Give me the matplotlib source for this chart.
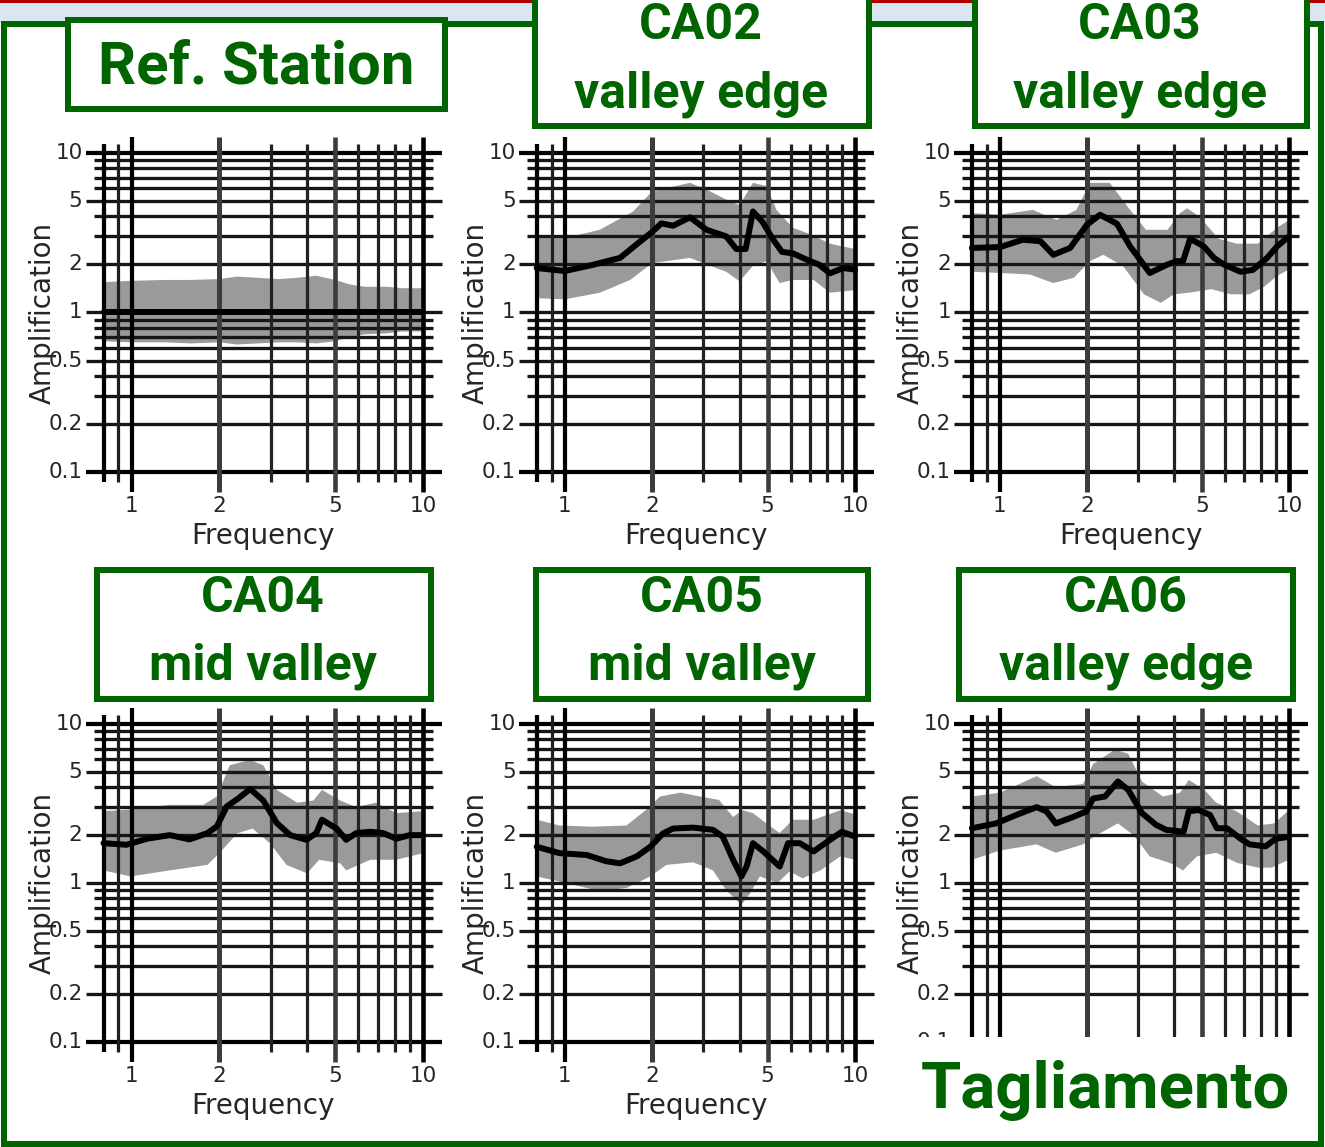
import matplotlib
matplotlib.use("Agg")
import matplotlib.pyplot as plt
from matplotlib.patches import Rectangle
from matplotlib.transforms import offset_copy

W, H = 1325, 1147
GREEN = "#006400"
BAND = "#9a9a9a"
TITLE_FONT = "Roboto"

# ---------------------------------------------------------------- data
# Reference station
ref_med_f = [0.8, 10]
ref_med = [1.0, 1.0]
ref_up_f = [0.8, 1.0, 1.3, 1.6, 2.0, 2.3, 2.7, 3.2, 3.7, 4.3, 5.0, 5.6, 6.3, 7.5, 8.5, 10]
ref_up = [1.55, 1.58, 1.6, 1.6, 1.62, 1.68, 1.65, 1.62, 1.65, 1.7, 1.6, 1.5, 1.45, 1.45, 1.42, 1.42]
ref_lo_f = [0.8, 1.0, 1.3, 1.6, 2.0, 2.3, 2.7, 3.2, 3.7, 4.3, 5.0, 5.6, 6.3, 7.5, 8.5, 10]
ref_lo = [0.66, 0.65, 0.65, 0.64, 0.65, 0.63, 0.64, 0.65, 0.65, 0.64, 0.66, 0.7, 0.73, 0.74, 0.76, 0.76]

# CA02 valley edge
ca02_med_f = [0.8, 1.0, 1.25, 1.55, 1.77, 2.0, 2.15, 2.36, 2.7, 3.08, 3.6, 3.9, 4.2, 4.45,
              4.8, 5.2, 5.6, 6.1, 7.0, 7.5, 8.2, 9.1, 10]
ca02_med = [1.9, 1.82, 1.99, 2.2, 2.68, 3.2, 3.62, 3.5, 3.95, 3.3, 3.0, 2.5, 2.5, 4.3,
            3.7, 2.9, 2.4, 2.35, 2.1, 2.0, 1.76, 1.9, 1.86]
ca02_up_f = [0.8, 1.0, 1.32, 1.72, 2.0, 2.7, 3.08, 3.6, 4.0, 4.45, 4.96, 5.36, 6.1, 7.0, 8.2, 10]
ca02_up = [2.93, 2.93, 3.3, 4.3, 5.75, 6.5, 5.9, 5.1, 4.7, 6.5, 6.2, 4.4, 3.4, 3.1, 2.7, 2.5]
ca02_lo_f = [0.8, 1.0, 1.32, 1.68, 2.0, 2.7, 3.08, 3.6, 4.0, 4.45, 4.96, 5.5, 6.1, 7.2, 8.2, 10]
ca02_lo = [1.23, 1.21, 1.33, 1.6, 2.04, 2.2, 2.0, 1.8, 1.57, 1.96, 2.1, 1.53, 1.6, 1.6, 1.33, 1.38]

# CA03 valley edge
ca03_med_f = [0.8, 1.0, 1.2, 1.38, 1.53, 1.75, 2.0, 2.22, 2.54, 2.82, 3.3, 3.8, 4.1, 4.3,
              4.55, 5.07, 5.5, 5.95, 6.8, 7.5, 8.4, 9.1, 10]
ca03_med = [2.54, 2.57, 2.86, 2.8, 2.3, 2.54, 3.55, 4.1, 3.6, 2.6, 1.77, 2.0, 2.1, 2.1,
            2.9, 2.6, 2.2, 2.0, 1.8, 1.85, 2.2, 2.6, 3.0]
ca03_up_f = [0.8, 1.0, 1.3, 1.57, 1.84, 2.05, 2.4, 2.82, 3.2, 3.8, 4.2, 4.44, 4.9, 5.7, 6.6, 7.8, 9.1, 10]
ca03_up = [4.2, 4.1, 4.4, 3.8, 4.4, 6.5, 6.5, 4.4, 3.3, 3.3, 4.2, 4.5, 4.0, 2.9, 2.7, 2.7, 3.4, 3.8]
ca03_lo_f = [0.8, 1.0, 1.27, 1.53, 1.8, 2.05, 2.28, 2.67, 3.15, 3.6, 4.0, 4.5, 5.4, 6.3, 7.3, 8.2, 9.1, 10]
ca03_lo = [1.8, 1.77, 1.73, 1.53, 1.65, 2.1, 2.3, 1.95, 1.3, 1.15, 1.3, 1.33, 1.4, 1.3, 1.3, 1.45, 1.7, 1.86]

# CA04 mid valley
ca04_med_f = [0.8, 0.96, 1.13, 1.35, 1.58, 1.82, 1.96, 2.12, 2.32, 2.55, 2.83, 3.15, 3.5, 3.98,
              4.3, 4.5, 5.05, 5.45, 5.9, 6.6, 7.3, 8.1, 9.0, 10]
ca04_med = [1.78, 1.74, 1.9, 2.0, 1.88, 2.06, 2.27, 3.03, 3.4, 3.9, 3.3, 2.38, 2.0, 1.87,
            2.06, 2.5, 2.2, 1.87, 2.06, 2.1, 2.06, 1.9, 2.0, 2.0]
ca04_up_f = [0.8, 1.0, 1.35, 1.76, 1.96, 2.17, 2.55, 2.83, 3.15, 3.7, 4.2, 4.5, 5.2, 5.9, 6.9, 8.1, 10]
ca04_up = [2.83, 2.9, 3.1, 3.1, 3.5, 5.5, 5.95, 5.5, 3.85, 3.2, 3.3, 3.85, 3.3, 3.0, 3.2, 2.75, 2.83]
ca04_lo_f = [0.8, 0.99, 1.35, 1.82, 2.0, 2.3, 2.6, 2.98, 3.4, 4.0, 4.4, 5.2, 5.45, 6.6, 8.1, 10]
ca04_lo = [1.2, 1.1, 1.2, 1.3, 1.54, 2.05, 2.2, 1.78, 1.3, 1.15, 1.4, 1.33, 1.2, 1.4, 1.4, 1.54]

# CA05 mid valley
ca05_med_f = [0.8, 0.96, 1.19, 1.39, 1.55, 1.77, 1.97, 2.18, 2.36, 2.77, 3.24, 3.5, 3.8, 4.06,
              4.23, 4.45, 4.83, 5.5, 5.88, 6.45, 7.2, 7.9, 9.0, 10]
ca05_med = [1.69, 1.54, 1.5, 1.37, 1.33, 1.47, 1.69, 2.05, 2.2, 2.23, 2.16, 1.96, 1.4, 1.1,
            1.27, 1.78, 1.58, 1.27, 1.78, 1.78, 1.58, 1.78, 2.1, 1.96]
ca05_up_f = [0.8, 0.96, 1.25, 1.63, 1.9, 2.13, 2.5, 2.92, 3.4, 3.8, 4.1, 4.45, 4.95, 5.5, 6.1, 7.2, 8.9, 10]
ca05_up = [2.5, 2.3, 2.26, 2.3, 2.87, 3.5, 3.7, 3.5, 3.33, 2.6, 2.87, 2.75, 2.37, 2.06, 2.5, 2.5, 2.87, 2.7]
ca05_lo_f = [0.8, 0.96, 1.32, 1.63, 1.97, 2.24, 2.77, 3.24, 3.6, 4.06, 4.35, 4.7, 5.4, 5.95, 6.6, 7.6, 8.9, 10]
ca05_lo = [1.1, 1.02, 0.89, 0.93, 1.1, 1.3, 1.35, 1.2, 0.9, 0.73, 0.86, 1.1, 1.0, 1.18, 1.07, 1.2, 1.47, 1.4]

# CA06 valley edge
ca06_med_f = [0.8, 0.97, 1.14, 1.34, 1.45, 1.56, 1.79, 1.99, 2.1, 2.31, 2.56, 2.78, 3.1, 3.47,
              3.76, 4.32, 4.5, 4.86, 5.33, 5.63, 6.1, 6.8, 7.3, 8.3, 9.0, 10]
ca06_med = [2.21, 2.37, 2.68, 3.0, 2.82, 2.37, 2.6, 2.82, 3.4, 3.5, 4.35, 3.85, 2.75, 2.32,
            2.16, 2.1, 2.82, 2.88, 2.68, 2.21, 2.21, 1.9, 1.75, 1.7, 1.9, 1.95]
ca06_up_f = [0.8, 1.0, 1.34, 1.56, 1.94, 2.1, 2.5, 2.78, 3.1, 3.66, 4.2, 4.5, 5.1, 5.6, 6.6, 7.8, 8.9, 10]
ca06_up = [3.5, 3.7, 4.7, 4.0, 4.2, 5.6, 6.9, 6.5, 4.35, 3.5, 3.7, 4.45, 3.85, 3.2, 2.82, 2.3, 2.37, 2.88]
ca06_lo_f = [0.8, 1.0, 1.34, 1.56, 1.94, 2.16, 2.56, 2.9, 3.3, 3.9, 4.3, 4.8, 5.6, 6.6, 7.8, 8.7, 10]
ca06_lo = [1.4, 1.6, 1.75, 1.55, 1.75, 2.0, 2.37, 2.0, 1.47, 1.33, 1.2, 1.47, 1.55, 1.34, 1.25, 1.25, 1.4]

# titles
titles = ["Ref. Station", "CA02\nvalley edge", "CA03\nvalley edge",
          "CA04\nmid valley", "CA05\nmid valley", "CA06\nvalley edge"]
site_name = "Tagliamento"

# axis ticks / labels
x_grid = [0.8, 0.9, 1, 2, 3, 4, 5, 6, 7, 8, 9, 10]
x_ticks = [1, 2, 5, 10]
x_ticklabels = ["1", "2", "5", "10"]
y_grid = [0.1, 0.2, 0.3, 0.4, 0.5, 0.6, 0.7, 0.8, 0.9, 1, 2, 3, 4, 5, 6, 7, 8, 9, 10]
y_ticks = [0.1, 0.2, 0.5, 1, 2, 5, 10]
y_ticklabels = ["0.1", "0.2", "0.5", "1", "2", "5", "10"]
xlabel = "Frequency"
ylabel = "Amplification"

stations = [
    (ref_med_f, ref_med, ref_up_f, ref_up, ref_lo_f, ref_lo),
    (ca02_med_f, ca02_med, ca02_up_f, ca02_up, ca02_lo_f, ca02_lo),
    (ca03_med_f, ca03_med, ca03_up_f, ca03_up, ca03_lo_f, ca03_lo),
    (ca04_med_f, ca04_med, ca04_up_f, ca04_up, ca04_lo_f, ca04_lo),
    (ca05_med_f, ca05_med, ca05_up_f, ca05_up, ca05_lo_f, ca05_lo),
    (ca06_med_f, ca06_med, ca06_up_f, ca06_up, ca06_lo_f, ca06_lo),
]

# ---------------------------------------------------------------- layout (pixels)
cols = [(103.5, 423.0), (536.7, 855.0), (971.9, 1289.0)]
rows = [(153.0, 472.0), (724.0, 1042.0)]
PX = 72.0 / 100.0   # points per pixel
LABEL_COLOR = "#262626"

fig = plt.figure(figsize=(W / 100, H / 100), dpi=100)
fig.patch.set_facecolor("white")


def add_px_axes(left, top, right, bottom, **kw):
    return fig.add_axes([left / W, 1 - bottom / H, (right - left) / W, (bottom - top) / H], **kw)


def draw_panel(ax, wpx, hpx, med_f, med, up_f, up, lo_f, lo, x_labels=True):
    ax.set_xscale("log")
    ax.set_yscale("log")
    ax.set_xlim(0.8, 10)
    ax.set_ylim(0.1, 10)
    ax.axis("off")

    # scatter band
    ax.fill(list(up_f) + list(lo_f)[::-1], list(up) + list(lo)[::-1],
            color=BAND, lw=0, zorder=1)

    # horizontal grid, drawn past the frame like tick marks
    for yv in y_grid:
        major = yv in y_ticks
        el, er = (18, 19) if major else (10, 10)
        edge = yv in (0.1, 10)
        ax.plot([-el / wpx, 1 + er / wpx], [yv, yv], transform=ax.get_yaxis_transform(),
                clip_on=False, color="black" if edge else "#161616",
                lw=(4.2 if edge else 3.3) * PX, solid_capstyle="butt", zorder=2)

    # vertical grid
    vstyle = {0.8: ("black", 4.2), 0.9: ("#1e1e1e", 3.2), 1: ("black", 4.2),
              2: ("#3c3c3c", 5.0), 5: ("#3c3c3c", 4.6), 10: ("black", 4.6)}
    for xv in x_grid:
        major = xv in x_ticks
        et, eb = (16, 20) if major else (9, 10)
        col, lw = vstyle.get(xv, ("#222222", 3.2))
        ax.plot([xv, xv], [-eb / hpx, 1 + et / hpx], transform=ax.get_xaxis_transform(),
                clip_on=False, color=col, lw=lw * PX, solid_capstyle="butt", zorder=2)

    # median amplification
    ax.plot(med_f, med, color="black", lw=6.0 * PX, zorder=4, clip_on=False,
            solid_joinstyle="round", solid_capstyle="round")

    # tick labels and axis labels
    ytr = offset_copy(ax.get_yaxis_transform(), fig=fig, x=-21, y=0, units="dots")
    for yv, lab in zip(y_ticks, y_ticklabels):
        ax.text(0, yv, lab, transform=ytr, ha="right", va="center",
                fontsize=15.5, color=LABEL_COLOR, zorder=5)
    ax.text(0, 0.5, ylabel, rotation=90,
            transform=offset_copy(ax.transAxes, fig=fig, x=-61, units="dots"),
            ha="center", va="center", fontsize=20, color=LABEL_COLOR)
    if x_labels:
        xtr = offset_copy(ax.get_xaxis_transform(), fig=fig, x=0, y=-34, units="dots")
        for xv, lab in zip(x_ticks, x_ticklabels):
            ax.text(xv, 0, lab, transform=xtr, ha="center", va="center",
                    fontsize=15.5, color=LABEL_COLOR, zorder=5)
        ax.text(0.5, 0, xlabel, transform=offset_copy(ax.transAxes, fig=fig, y=-64, units="dots"),
                ha="center", va="center", fontsize=20, color=LABEL_COLOR)


k = 0
for (top, bottom) in rows:
    for (left, right) in cols:
        ax = add_px_axes(left, top, right, bottom, zorder=5)
        # the last panel's frequency axis sits under the site name
        draw_panel(ax, right - left, bottom - top, *stations[k], x_labels=(k != 5))
        k += 1

# ---------------------------------------------------------------- decoration overlay
ov = fig.add_axes([0, 0, 1, 1], zorder=20)
ov.set_xlim(0, W)
ov.set_ylim(H, 0)
ov.axis("off")
ov.patch.set_alpha(0)

# banner strip above the frame
ov.add_patch(Rectangle((0, 0), W, 23, color="#dae7f3", lw=0, zorder=1))
ov.add_patch(Rectangle((0, 0), W, 2.5, color="#b40000", lw=0, zorder=2))

# blank area holding the site name
ov.add_patch(Rectangle((890, 1037), 1319 - 890, 1142 - 1037, color="white", lw=0, zorder=2))

# outer frame
ov.add_patch(Rectangle((4, 24), 1321 - 4, 1144 - 24, fill=False, ec=GREEN,
                       lw=6 * PX, zorder=3))

# station title boxes: (left, top, right, bottom, text x, first baseline)
boxes = [
    (67.5, 20, 444.5, 109, 256, 83),
    (535, -10, 869, 125.5, 701, 39),
    (974.5, -10, 1307, 125.5, 1140, 39),
    (97, 569.5, 430.5, 699, 263, 612),
    (536, 569.5, 868, 699, 702, 612),
    (959, 569.5, 1293, 699, 1126, 612),
]
for (l, t, r, b, tx, ty), title in zip(boxes, titles):
    ov.add_patch(Rectangle((l, t), r - l, b - t, fc="white", ec=GREEN,
                           lw=6 * PX, zorder=4))
    lines = title.split("\n")
    size = 43 if len(lines) == 1 else 36
    for i, line in enumerate(lines):
        ov.text(tx, ty + 68 * i, line, ha="center", va="baseline", fontsize=size,
                fontweight="bold", family=TITLE_FONT, color=GREEN, zorder=5)

ov.text(1105, 1108, site_name, ha="center", va="baseline", fontsize=47,
        fontweight="bold", family=TITLE_FONT, color=GREEN, zorder=5)

fig.savefig("out.png", dpi=100, facecolor="white")
